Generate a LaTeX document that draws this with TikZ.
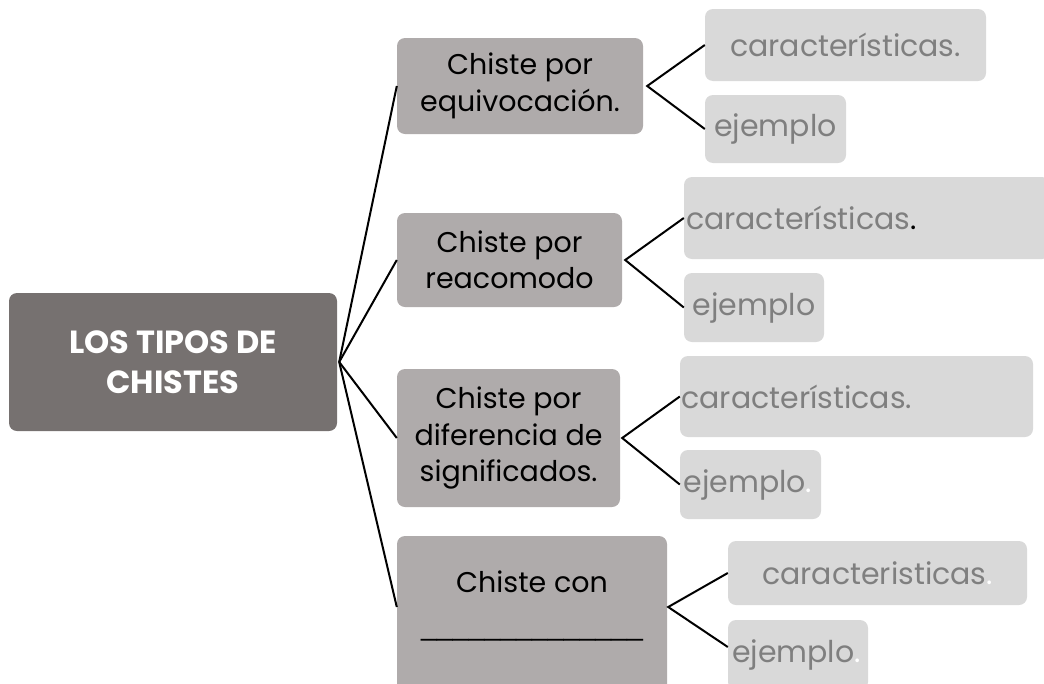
\documentclass[tikz,border=0pt]{standalone}
\usepackage{fontspec}
\setmainfont{Poppins}
\newfontfamily\libsans{Liberation Sans}
\definecolor{rootc}{HTML}{767170}
\definecolor{midc}{HTML}{AFABAB}
\definecolor{leafc}{HTML}{D9D9D9}
\definecolor{leaft}{HTML}{7F7F7F}
\begin{document}
\begin{tikzpicture}[x=1pt,y=-1pt,
  box/.style={rounded corners=8pt, inner sep=0pt, align=center},
  rootbox/.style={box, fill=rootc, text=white, font=\fontsize{32}{40}\selectfont\bfseries},
  midbox/.style={box, fill=midc, text=black, font=\fontsize{28.5}{36.5}\selectfont},
  leafbox/.style={box, fill=leafc, text=leaft, font=\fontsize{30}{34}\selectfont},
  conn/.style={draw=black, line width=2pt}]
\useasboundingbox (0,0) rectangle (1044,683);
\clip (0,0) rectangle (1044,683);
% root
\node[rootbox, minimum width=328pt, minimum height=138pt] (root) at (173,362) {LOS TIPOS DE\\CHISTES};
% level 2
\node[midbox, minimum width=246pt, minimum height=96pt] (b1) at (520,86) {Chiste por\\equivocación.};
\node[midbox, minimum width=225pt, minimum height=94pt] (b2) at (509.5,260) {Chiste por\\reacomodo};
\node[midbox, minimum width=223pt, minimum height=138pt] (b3) at (508.5,438) {Chiste por\\diferencia de\\significados.};
\node[midbox, minimum width=270pt, minimum height=164pt, text depth=30pt] (b4) at (532,618) {Chiste con\\[6pt]{\libsans\_\_\_\_\_\_\_\_\_\_\_\_\_\_}};
% leaves
\node[leafbox, minimum width=281pt, minimum height=72pt] (l1c) at (845.5,45) {características.};
\node[leafbox, minimum width=141pt, minimum height=68pt] (l1e) at (775.5,129) {ejemplo};
\node[leafbox, minimum width=366pt, minimum height=82pt, text width=362pt, align=left] (l2c) at (867,218) {características\textcolor{black}{.}};
\node[leafbox, minimum width=140pt, minimum height=69pt] (l2e) at (754,307.5) {ejemplo};
\node[leafbox, minimum width=353pt, minimum height=81pt, text width=350pt, align=left] (l3c) at (856.5,396.5) {características.};
\node[leafbox, minimum width=141pt, minimum height=69pt, text width=134pt, align=left] (l3e) at (750.5,484.5) {ejemplo\textcolor{white}{.}};
\node[leafbox, minimum width=299pt, minimum height=64pt] (l4c) at (877.5,573) {caracteristicas\textcolor{white}{.}};
\node[leafbox, minimum width=140pt, minimum height=70pt, text width=132pt, align=left] (l4e) at (798,655) {ejemplo\textcolor{white}{.}};
% connectors
\coordinate (ra) at ([xshift=2pt]root.east);
\draw[conn] (ra) -- (b1.west);
\draw[conn] (ra) -- (b2.west);
\draw[conn] (ra) -- (b3.west);
\draw[conn] (ra) -- ([yshift=11pt]b4.west);
\coordinate (a1) at ([xshift=4pt]b1.east);
\draw[conn] (l1c.west) -- (a1) -- (l1e.west);
\coordinate (a2) at ([xshift=3pt]b2.east);
\draw[conn] (l2c.west) -- (a2) -- (l2e.west);
\coordinate (a3) at ([xshift=2pt]b3.east);
\draw[conn] (l3c.west) -- (a3) -- (l3e.west);
\coordinate (a4) at ([xshift=1pt,yshift=11pt]b4.east);
\draw[conn] (l4c.west) -- (a4) -- ([yshift=8pt]l4e.west);
\end{tikzpicture}
\end{document}
